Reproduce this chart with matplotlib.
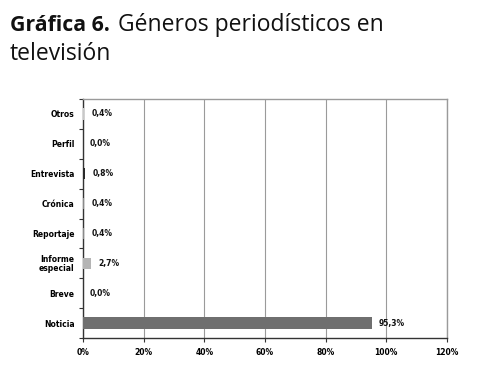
import matplotlib
matplotlib.use("Agg")
import matplotlib.pyplot as plt
import numpy as np

categories = ["Noticia", "Breve", "Informe\nespecial", "Reportaje", "Crónica", "Entrevista", "Perfil", "Otros"]
values = [95.3, 0.0, 2.7, 0.4, 0.4, 0.8, 0.0, 0.4]
labels = ["95,3%", "0,0%", "2,7%", "0,4%", "0,4%", "0,8%", "0,0%", "0,4%"]
colors = ["#6f6f6f", "#6f6f6f", "#b4b4b4", "#8a8a8a", "#8a8a8a", "#2a2a2a", "#6f6f6f", "#c8c8c8"]
xticks = [0, 20, 40, 60, 80, 100, 120]
xticklabels = ["0%", "20%", "40%", "60%", "80%", "100%", "120%"]

fig = plt.figure(figsize=(4.95, 3.77), dpi=100)
ax = fig.add_axes([83/495, 1 - 338/377, (447-83)/495, (338-99)/377])

y = np.arange(len(categories))
ax.barh(y, values, height=0.38, color=colors, zorder=3)
for yi, v, lab in zip(y, values, labels):
    ax.annotate(lab, (v, yi), xytext=(5, 0), textcoords="offset points",
                va="center", ha="left", fontsize=5.5, fontweight="bold",
                family="DejaVu Sans", color="#111111")

ax.set_xlim(0, 120)
ax.set_ylim(-0.5, len(categories) - 0.5)
ax.set_xticks(xticks)
ax.set_xticklabels(xticklabels, fontsize=5.5, fontweight="bold", family="DejaVu Sans")
ax.set_yticks(y)
ax.set_yticklabels(categories, fontsize=5.5, fontweight="bold", family="DejaVu Sans",
                   linespacing=1.0)
ax.tick_params(axis="y", length=0, pad=6)
ax.set_yticks(np.arange(-0.5, len(categories), 1.0), minor=True)
ax.tick_params(axis="y", which="minor", length=3, width=0.8, color="#333333")
ax.tick_params(axis="x", length=3, width=0.8, color="#333333", pad=4, direction="out")
ax.grid(axis="x", color="#9a9a9a", linewidth=0.8, zorder=0)

for s in ["top", "right"]:
    ax.spines[s].set_color("#9a9a9a")
    ax.spines[s].set_linewidth(1.0)
for s in ["left", "bottom"]:
    ax.spines[s].set_color("#333333")
    ax.spines[s].set_linewidth(1.0)

fig.text(10/495, 1 - 31/377, "Gráfica 6.", fontsize=15.3, fontweight="bold",
         family="Open Sans", ha="left", va="baseline", color="#111111")
fig.text(118/495, 1 - 31/377, "Géneros periodísticos en", fontsize=16.5,
         family="Open Sans", ha="left", va="baseline", color="#111111")
fig.text(10/495, 1 - 60/377, "televisión", fontsize=16.5,
         family="Open Sans", ha="left", va="baseline", color="#111111")

fig.savefig("out.png", dpi=100)
